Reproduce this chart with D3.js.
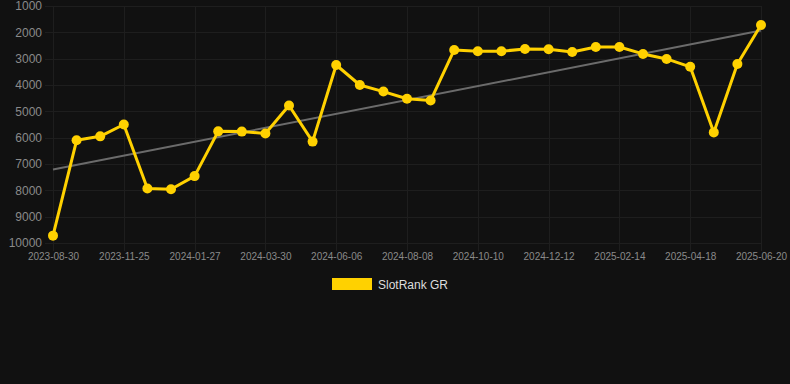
<!DOCTYPE html>
<html lang="en">
<head>
    <meta charset="UTF-8">
    <title>SlotRank GR</title>
    <script src="https://d3js.org/d3.v7.min.js"></script>
    <style>
        html, body {
            margin: 0;
            padding: 0;
            background: #111111;
        }
        body {
            font-family: Arial, "Liberation Sans", sans-serif;
        }
        .grid line {
            stroke: #1e1e1e;
            stroke-width: 1px;
            shape-rendering: crispEdges;
        }
        .axis text {
            fill: #8a8a8a;
        }
        .legend-text {
            fill: #dddddd;
            font-size: 12px;
        }
    </style>
</head>
<body>
    <svg width="790" height="384"></svg>
    <script>
        // chart data
        var dates = [
            "2023-08-30", "2023-09-30", "2023-10-27", "2023-11-25", "2023-12-17", "2024-01-05",
            "2024-01-27", "2024-02-18", "2024-03-09", "2024-03-30", "2024-04-22", "2024-05-15",
            "2024-06-06", "2024-06-27", "2024-07-18", "2024-08-08", "2024-08-29", "2024-09-19",
            "2024-10-10", "2024-10-31", "2024-11-21", "2024-12-12", "2025-01-02", "2025-01-23",
            "2025-02-14", "2025-03-07", "2025-03-28", "2025-04-18", "2025-05-09", "2025-05-30",
            "2025-06-20"
        ];
        var ranks = [
            9720, 6100, 5950, 5500, 7930, 7960,
            7460, 5760, 5770, 5840, 4780, 6150,
            3240, 4000, 4250, 4520, 4590, 2670,
            2720, 2720, 2630, 2645, 2745, 2555,
            2555, 2820, 3010, 3310, 5800, 3200,
            1720
        ];
        var trend = [7210, 1930];            // trend line at first and last date
        var yTicks = [1000, 2000, 3000, 4000, 5000, 6000, 7000, 8000, 9000, 10000];
        var seriesName = "SlotRank GR";

        var margin = {top: 6, right: 29, bottom: 141, left: 53},
            width = 790 - margin.left - margin.right,
            height = 384 - margin.top - margin.bottom;

        var x = d3.scalePoint().domain(dates).range([0, width]);
        var y = d3.scaleLinear().domain([1000, 10000]).range([0, height]);

        var svg = d3.select("svg")
          .append("g")
            .attr("transform", "translate(" + margin.left + "," + margin.top + ")");

        // horizontal grid + y labels
        var yAxis = svg.append("g")
            .attr("class", "grid axis")
            .call(d3.axisLeft(y).tickValues(yTicks).tickSize(-width - 8).tickPadding(3).tickFormat(d3.format("d")))
            .attr("transform", "translate(-8,0)");
        yAxis.select(".domain").remove();
        yAxis.selectAll("text").style("font-size", "12px");

        // vertical grid + x labels, every third date
        var xTickVals = dates.filter(function(d, i) { return i % 3 === 0; });
        var xAxis = svg.append("g")
            .attr("class", "grid axis")
            .attr("transform", "translate(0," + height + ")")
            .call(d3.axisBottom(x).tickValues(xTickVals).tickSize(-height).tickPadding(8));
        xAxis.select(".domain").remove();
        xAxis.selectAll("line").attr("y1", 8);
        xAxis.selectAll("text").style("font-size", "10px").attr("dy", "0.9em");

        // trend line
        svg.append("line")
            .attr("x1", x(dates[0]))
            .attr("y1", y(trend[0]))
            .attr("x2", x(dates[dates.length - 1]))
            .attr("y2", y(trend[1]))
            .style("stroke", "#6b6b6b")
            .style("stroke-width", 2);

        // data line
        var line = d3.line()
            .x(function(d, i) { return x(dates[i]); })
            .y(function(d) { return y(d); });

        svg.append("path")
            .datum(ranks)
            .attr("d", line)
            .style("fill", "none")
            .style("stroke", "#ffd100")
            .style("stroke-width", 3)
            .style("stroke-linejoin", "round");

        svg.append("g")
            .selectAll("circle")
            .data(ranks)
          .enter().append("circle")
            .attr("cx", function(d, i) { return x(dates[i]); })
            .attr("cy", function(d) { return y(d); })
            .attr("r", 5)
            .style("fill", "#ffd100");

        // legend
        var legend = d3.select("svg").append("g");
        legend.append("rect")
            .attr("x", 332)
            .attr("y", 278)
            .attr("width", 40)
            .attr("height", 12)
            .style("fill", "#ffd100");
        legend.append("text")
            .attr("class", "legend-text")
            .attr("x", 378)
            .attr("y", 289)
            .text(seriesName);
    </script>
</body>
</html>
